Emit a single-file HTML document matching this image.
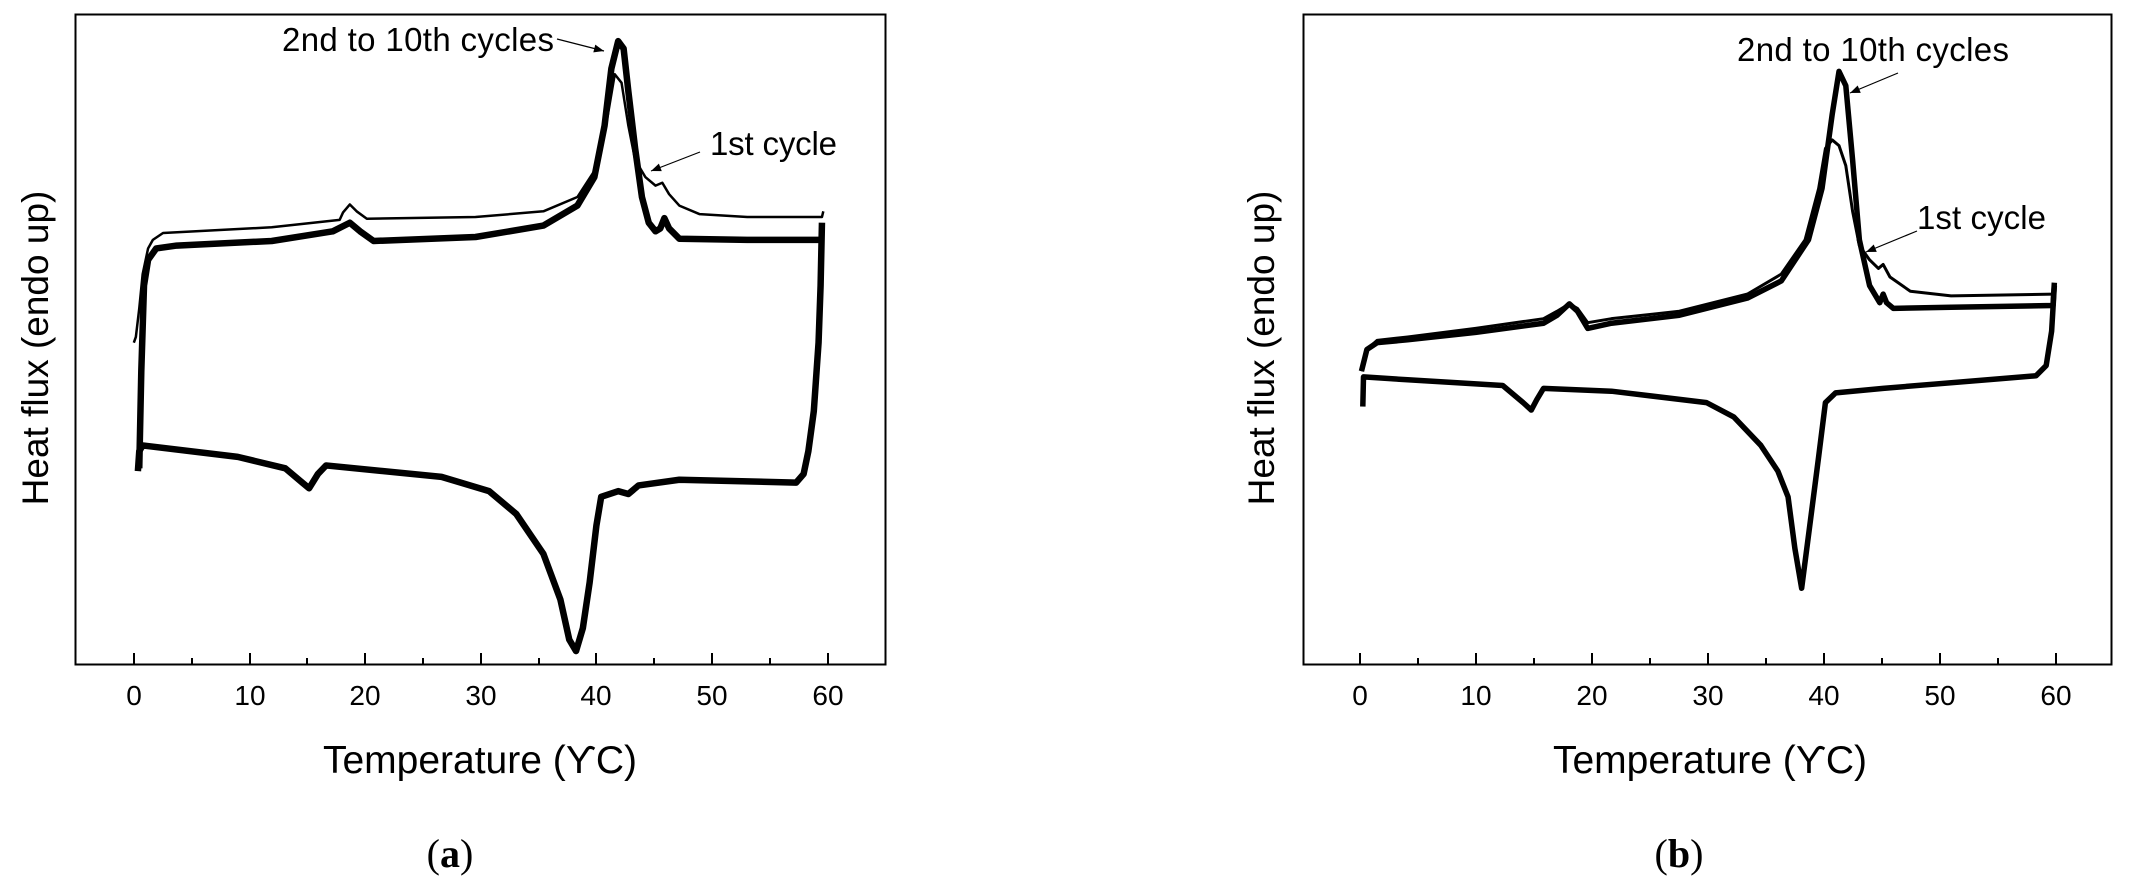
<!DOCTYPE html>
<html><head><meta charset="utf-8"><style>
html,body{margin:0;padding:0;background:#fff;}
svg{display:block;}
text{font-family:"Liberation Sans",Arial,sans-serif;fill:#000;}
</style></head><body>
<svg width="2136" height="895" viewBox="0 0 2136 895" xmlns="http://www.w3.org/2000/svg">
<defs>
<marker id="ar" viewBox="0 0 10 10" refX="10" refY="5" markerWidth="14" markerHeight="10" markerUnits="userSpaceOnUse" orient="auto"><path d="M0,1 L10,5 L0,9 z" fill="#000"/></marker>
</defs>
<!-- Panel a -->
<rect x="75.5" y="14.5" width="810" height="650" fill="none" stroke="#000" stroke-width="2"/>
<g stroke="#000" stroke-width="2">
<line x1="134" y1="664" x2="134" y2="653"/><line x1="192" y1="664" x2="192" y2="658"/>
<line x1="250" y1="664" x2="250" y2="653"/><line x1="307" y1="664" x2="307" y2="658"/>
<line x1="365" y1="664" x2="365" y2="653"/><line x1="423" y1="664" x2="423" y2="658"/>
<line x1="481" y1="664" x2="481" y2="653"/><line x1="539" y1="664" x2="539" y2="658"/>
<line x1="596" y1="664" x2="596" y2="653"/><line x1="654" y1="664" x2="654" y2="658"/>
<line x1="712" y1="664" x2="712" y2="653"/><line x1="770" y1="664" x2="770" y2="658"/>
<line x1="828" y1="664" x2="828" y2="653"/>
</g>
<g font-size="28" text-anchor="middle">
<text x="134" y="705">0</text><text x="250" y="705">10</text><text x="365" y="705">20</text><text x="481" y="705">30</text><text x="596" y="705">40</text><text x="712" y="705">50</text><text x="828" y="705">60</text>
</g>
<text x="480" y="773" font-size="39" text-anchor="middle">Temperature (ϒC)</text>
<text transform="translate(48,348) rotate(-90)" font-size="37" text-anchor="middle">Heat flux (endo up)</text>
<text x="450" y="867" font-size="40" text-anchor="middle" style="font-family:'Liberation Serif',serif">(<tspan font-weight="bold">a</tspan>)</text>
<text x="282" y="51" font-size="33" textLength="272">2nd to 10th cycles</text>
<text x="710" y="155" font-size="33" textLength="127">1st cycle</text>
<line x1="557" y1="39" x2="604" y2="51" stroke="#000" stroke-width="1.2" marker-end="url(#ar)"/>
<line x1="700" y1="152" x2="651" y2="171" stroke="#000" stroke-width="1.2" marker-end="url(#ar)"/>
<g transform="scale(0.6793,0.5711)" fill="none" stroke="#000" stroke-linejoin="round">
<polyline vector-effect="non-scaling-stroke" stroke-width="2.5" points="197,600 200,590 205,540 210,480 218,435 225,420 240,408 400,398 500,385 505,372 515,358 525,370 540,383 700,380 800,370 850,345 880,290 895,200 905,130 915,145 925,220 935,280 950,310 965,325 975,320 985,340 1000,360 1030,375 1100,380 1210,380 1212,370"/>
<polyline vector-effect="non-scaling-stroke" stroke-width="6.5" points="205,820 208,650 212,500 218,455 230,435 260,430 400,422 490,405 515,390 530,405 550,422 700,415 800,395 850,360 875,310 890,220 900,120 910,72 918,85 925,160 935,260 945,345 955,390 965,405 972,400 978,382 985,400 1000,418 1100,420 1210,420"/>
<polyline vector-effect="non-scaling-stroke" stroke-width="6.5" points="1210,390 1208,500 1205,600 1198,720 1190,790 1183,830 1172,845 1000,840 940,850 925,865 910,860 885,870 878,920 868,1020 858,1100 848,1140 838,1120 825,1050 800,970 760,900 720,860 650,835 480,815 468,830 455,855 445,845 420,820 350,800 210,780 205,790 203,825"/>
</g>
<!-- Panel b -->
<rect x="1303.5" y="14.5" width="808" height="650" fill="none" stroke="#000" stroke-width="2"/>
<g stroke="#000" stroke-width="2">
<line x1="1360" y1="664" x2="1360" y2="653"/><line x1="1418" y1="664" x2="1418" y2="658"/>
<line x1="1476" y1="664" x2="1476" y2="653"/><line x1="1534" y1="664" x2="1534" y2="658"/>
<line x1="1592" y1="664" x2="1592" y2="653"/><line x1="1650" y1="664" x2="1650" y2="658"/>
<line x1="1708" y1="664" x2="1708" y2="653"/><line x1="1766" y1="664" x2="1766" y2="658"/>
<line x1="1824" y1="664" x2="1824" y2="653"/><line x1="1882" y1="664" x2="1882" y2="658"/>
<line x1="1940" y1="664" x2="1940" y2="653"/><line x1="1998" y1="664" x2="1998" y2="658"/>
<line x1="2056" y1="664" x2="2056" y2="653"/>
</g>
<g font-size="28" text-anchor="middle">
<text x="1360" y="705">0</text><text x="1476" y="705">10</text><text x="1592" y="705">20</text><text x="1708" y="705">30</text><text x="1824" y="705">40</text><text x="1940" y="705">50</text><text x="2056" y="705">60</text>
</g>
<text x="1710" y="773" font-size="39" text-anchor="middle">Temperature (ϒC)</text>
<text transform="translate(1274,348) rotate(-90)" font-size="37" text-anchor="middle">Heat flux (endo up)</text>
<text x="1679" y="867" font-size="40" text-anchor="middle" style="font-family:'Liberation Serif',serif">(<tspan font-weight="bold">b</tspan>)</text>
<text x="1737" y="61" font-size="33" textLength="272">2nd to 10th cycles</text>
<text x="1917" y="229" font-size="33" textLength="129">1st cycle</text>
<line x1="1898" y1="73" x2="1850" y2="93" stroke="#000" stroke-width="1.2" marker-end="url(#ar)"/>
<line x1="1917" y1="231" x2="1866" y2="252" stroke="#000" stroke-width="1.2" marker-end="url(#ar)"/>
<g transform="translate(1068,0) scale(0.6793,0.5711)" fill="none" stroke="#000" stroke-linejoin="round">
<polyline vector-effect="non-scaling-stroke" stroke-width="3" points="432,650 440,612 455,596 500,590 600,575 700,558 720,545 738,532 750,540 765,565 800,558 900,545 1000,515 1050,480 1085,420 1105,330 1115,260 1125,245 1135,255 1145,290 1155,370 1165,430 1180,455 1193,470 1200,463 1210,485 1240,510 1300,518 1450,515"/>
<polyline vector-effect="non-scaling-stroke" stroke-width="5.5" points="432,650 440,612 455,600 500,595 600,582 700,566 720,552 738,532 750,545 765,575 800,566 900,552 1000,522 1050,492 1090,420 1110,330 1125,200 1135,125 1145,150 1155,280 1165,420 1180,500 1195,530 1200,515 1205,530 1215,540 1300,538 1450,535 1452,495"/>
<polyline vector-effect="non-scaling-stroke" stroke-width="5.5" points="1452,500 1448,580 1440,640 1425,658 1200,680 1130,688 1115,705 1105,800 1092,920 1080,1030 1070,960 1060,870 1045,825 1020,780 980,730 940,705 800,685 700,680 690,700 682,718 670,705 640,675 500,665 435,660 434,712"/>
</g>
</svg>
</body></html>
